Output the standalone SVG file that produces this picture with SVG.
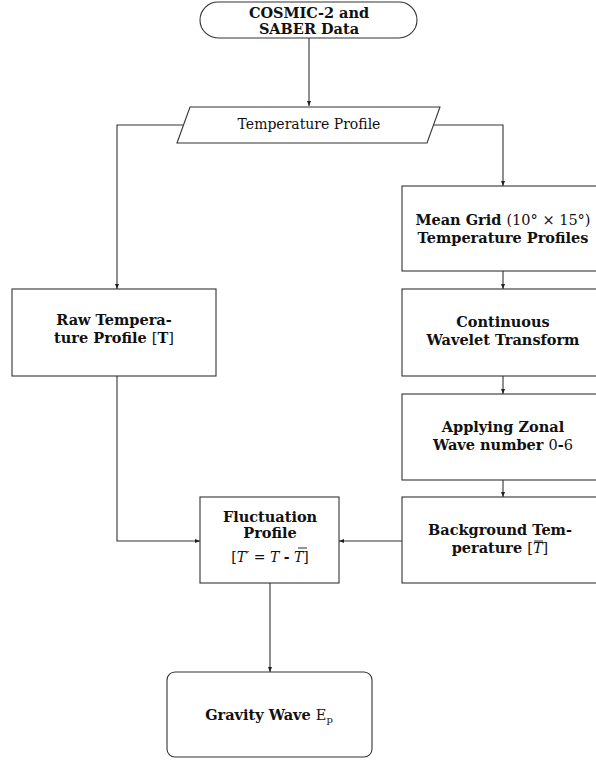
<svg xmlns="http://www.w3.org/2000/svg" width="596" height="760" viewBox="0 0 596 760">
<defs>
<style>
.box{fill:#fff;stroke:#333;stroke-width:1.1}
.b{font-family:"DejaVu Serif","Liberation Serif",serif;font-weight:bold;font-size:14.5px;fill:#111;text-anchor:middle}
.r{font-family:"DejaVu Serif","Liberation Serif",serif;font-size:14px;fill:#111;text-anchor:middle}
.n{font-weight:normal}
.it{font-style:italic;font-weight:normal}
.ln{fill:none;stroke:#333;stroke-width:1.1}
</style>
<marker id="ah" viewBox="0 0 10 10" refX="10" refY="5" markerWidth="5" markerHeight="5" orient="auto" markerUnits="userSpaceOnUse">
<path d="M0,1 L10,5 L0,9 Z" fill="#222"/>
</marker>
</defs>
<g id="connectors">
<path class="ln" d="M309,38 V106" marker-end="url(#ah)"/>
<path class="ln" d="M183,125 H117 V289" marker-end="url(#ah)"/>
<path class="ln" d="M434,125 H503 V186" marker-end="url(#ah)"/>
<path class="ln" d="M503,271 V289" marker-end="url(#ah)"/>
<path class="ln" d="M503,376 V394" marker-end="url(#ah)"/>
<path class="ln" d="M503,480 V497" marker-end="url(#ah)"/>
<path class="ln" d="M117,376 V541 H200" marker-end="url(#ah)"/>
<path class="ln" d="M402,541 H339" marker-end="url(#ah)"/>
<path class="ln" d="M270,583 V672" marker-end="url(#ah)"/>
</g>
<g id="start">
<rect class="box" x="200" y="2" width="217" height="36" rx="18" ry="18"/>
<text class="b" x="309" y="18" font-size="13.5">COSMIC-2 and</text>
<text class="b" x="309" y="34" font-size="13.5">SABER Data</text>
</g>
<g id="tempprofile">
<polygon class="box" points="190,107 440,107 427,143 177,143"/>
<text class="r" x="309" y="129">Temperature Profile</text>
</g>
<g id="meangrid">
<rect class="box" x="402" y="186" width="202" height="85"/>
<text class="b" x="503" y="225">Mean Grid <tspan class="n">(10° × 15°)</tspan></text>
<text class="b" x="503" y="243">Temperature Profiles</text>
</g>
<g id="raw">
<rect class="box" x="12" y="289" width="204" height="87"/>
<text class="b" x="114" y="325">Raw Tempera-</text>
<text class="b" x="114" y="343">ture Profile <tspan class="n">[</tspan>T<tspan class="n">]</tspan></text>
</g>
<g id="cwt">
<rect class="box" x="402" y="289" width="202" height="87"/>
<text class="b" x="503" y="327">Continuous</text>
<text class="b" x="503" y="345">Wavelet Transform</text>
</g>
<g id="zonal">
<rect class="box" x="402" y="394" width="202" height="86"/>
<text class="b" x="503" y="432">Applying Zonal</text>
<text class="b" x="503" y="450">Wave number <tspan class="n">0</tspan>-<tspan class="n">6</tspan></text>
</g>
<g id="background">
<rect class="box" x="402" y="497" width="202" height="86"/>
<text class="b" x="500" y="535">Background Tem-</text>
<text class="b" x="500" y="553">perature <tspan class="n">[</tspan><tspan class="it">T</tspan><tspan class="n">]</tspan></text>
<line x1="534" y1="541" x2="543" y2="541" stroke="#111" stroke-width="0.9"/>
</g>
<g id="fluct">
<rect class="box" x="200" y="497" width="139" height="86"/>
<text class="b" x="270" y="522">Fluctuation</text>
<text class="b" x="270" y="538">Profile</text>
<text class="r" x="270" y="562">[<tspan class="it">T′</tspan> = <tspan class="it">T</tspan> <tspan font-weight="bold">-</tspan> <tspan class="it">T</tspan>]</text>
<line x1="298" y1="548" x2="307" y2="548" stroke="#111" stroke-width="0.9"/>
</g>
<g id="gravity">
<rect class="box" x="167" y="672" width="205" height="85" rx="8" ry="8"/>
<text class="b" x="269" y="720">Gravity Wave <tspan class="n">E</tspan><tspan class="n" font-size="10" dy="3">p</tspan></text>
</g>
</svg>
